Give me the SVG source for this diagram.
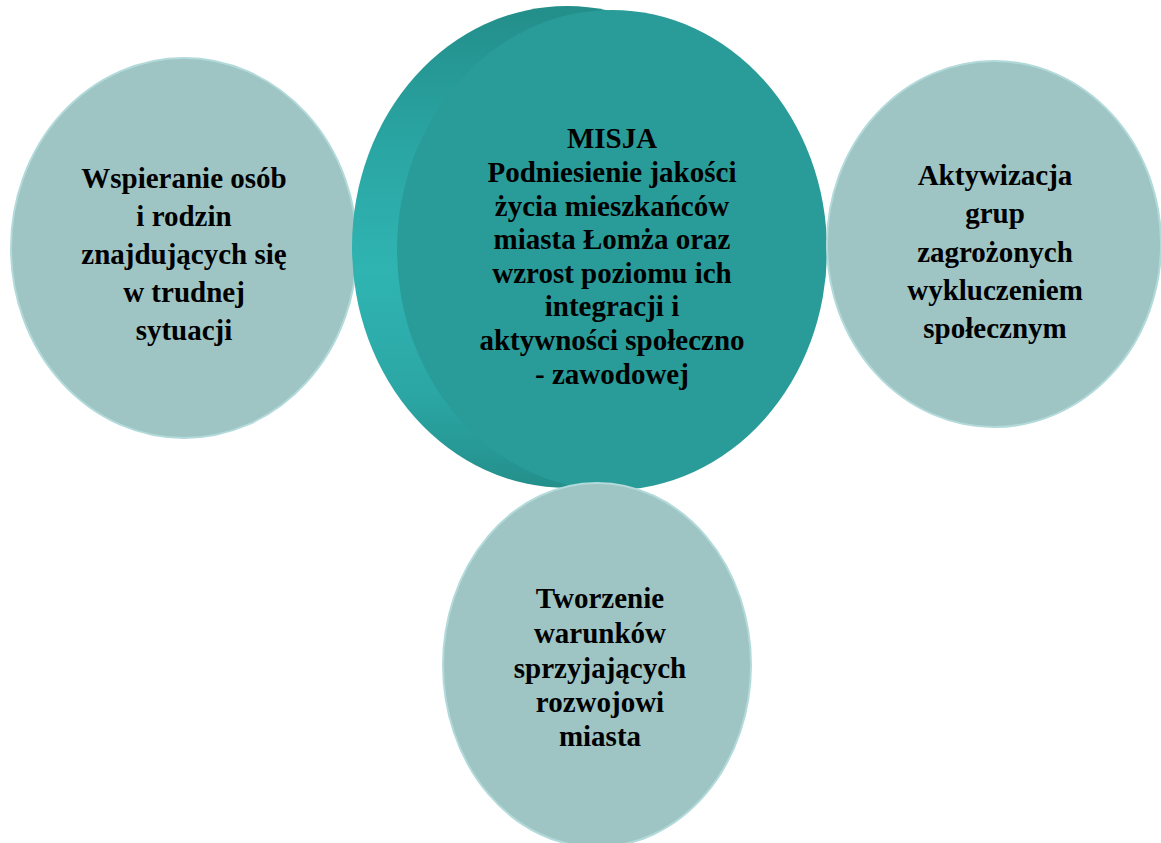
<svg xmlns="http://www.w3.org/2000/svg" width="1161" height="843" viewBox="0 0 1161 843">
<style>
.lbl{font-family:"Liberation Serif","Times New Roman",serif;font-weight:bold;font-size:29px;fill:#000;text-anchor:middle}
.sat{fill:#9ec4c4;stroke:#b3dada;stroke-width:2}
</style>
<defs>
<linearGradient id="side" x1="0" y1="0" x2="0" y2="1">
<stop offset="0" stop-color="#238e8a"/>
<stop offset="0.3" stop-color="#2aa6a4"/>
<stop offset="0.55" stop-color="#2fb4b2"/>
<stop offset="0.8" stop-color="#2ba7a5"/>
<stop offset="1" stop-color="#248f8b"/>
</linearGradient>
</defs>
<g id="connectors"></g>
<g id="node-left">
<ellipse class="sat" cx="184" cy="248" rx="173" ry="190"/>
<text class="lbl" x="184"><tspan x="184" y="188">Wspieranie osób</tspan><tspan x="184" y="226">i rodzin</tspan><tspan x="184" y="264">znajdujących się</tspan><tspan x="184" y="302">w trudnej</tspan><tspan x="184" y="340">sytuacji</tspan></text>
</g>
<g id="node-center">
<ellipse cx="567" cy="247" rx="215" ry="241" fill="url(#side)"/>
<ellipse cx="612" cy="250" rx="215" ry="240" fill="#299c99"/>
<text class="lbl"><tspan x="612" y="148">MISJA</tspan><tspan x="612" y="182">Podniesienie jakości</tspan><tspan x="612" y="216">życia mieszkańców</tspan><tspan x="612" y="249">miasta Łomża oraz</tspan><tspan x="612" y="283">wzrost poziomu ich</tspan><tspan x="612" y="316">integracji i</tspan><tspan x="612" y="350">aktywności społeczno</tspan><tspan x="612" y="384">- zawodowej</tspan></text>
</g>
<g id="node-right">
<ellipse class="sat" cx="994" cy="244" rx="167" ry="183"/>
<text class="lbl"><tspan x="995" y="185">Aktywizacja</tspan><tspan x="995" y="223">grup</tspan><tspan x="995" y="262">zagrożonych</tspan><tspan x="995" y="300">wykluczeniem</tspan><tspan x="995" y="338">społecznym</tspan></text>
</g>
<g id="node-bottom">
<ellipse class="sat" cx="597" cy="665" rx="154" ry="182"/>
<text class="lbl"><tspan x="600" y="608">Tworzenie</tspan><tspan x="600" y="643">warunków</tspan><tspan x="600" y="678">sprzyjających</tspan><tspan x="600" y="712">rozwojowi</tspan><tspan x="600" y="746">miasta</tspan></text>
</g>
</svg>
